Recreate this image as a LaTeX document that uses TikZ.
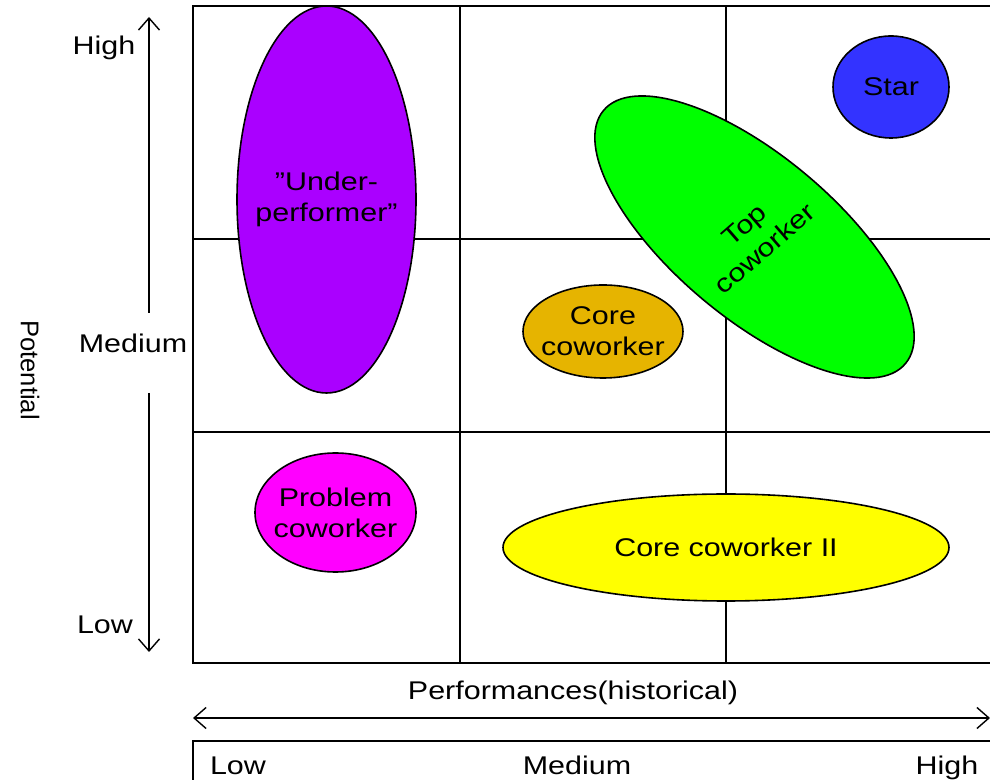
\documentclass[tikz,border=0pt]{standalone}
\usepackage{fontspec}
\setmainfont{Liberation Sans}[FakeStretch=1.19]
\newfontfamily\plainsans{Liberation Sans}
\usetikzlibrary{shapes.geometric,arrows.meta}
\definecolor{cPurple}{RGB}{170,0,255}
\definecolor{cBlue}{RGB}{51,51,255}
\definecolor{cGreen}{RGB}{0,255,0}
\definecolor{cGold}{RGB}{230,180,0}
\definecolor{cMagenta}{RGB}{255,0,255}
\definecolor{cYellow}{RGB}{255,255,0}
\tikzset{
  every node/.style={font=\fontsize{25.6}{31}\selectfont},
  gridline/.style={line width=1.6pt},
  axisarrow/.style={line width=1.4pt, arrows={Straight Barb[length=12pt,width=21pt,line width=1.4pt]-Straight Barb[length=12pt,width=21pt,line width=1.4pt]}},
  axisend/.style={line width=1.4pt, -{Straight Barb[length=12pt,width=21pt,line width=1.4pt]}},
  blob/.style={ellipse, draw=black, line width=1.6pt, inner sep=0pt, outer sep=0pt},
  lbl/.style={inner sep=0pt, anchor=center},
  blobtext/.style={inner sep=0pt, align=center}
}
\begin{document}
\begin{tikzpicture}[x=1pt,y=1pt]
\useasboundingbox (0,0) rectangle (990,779);
\clip (0,0) rectangle (990,779);

% 3x3 grid
\draw[gridline] (193,116) rectangle (995,773);
\draw[gridline] (460,116) -- (460,773);
\draw[gridline] (726,116) -- (726,773);
\draw[gridline] (193,540) -- (995,540);
\draw[gridline] (193,347) -- (995,347);

% scale box at the bottom
\draw[gridline] (193,-10) rectangle (1000,38);
\node[inner sep=0pt, anchor=base] (xlow) at (238,4.5) {Low};
\node[inner sep=0pt, anchor=base] (xmed) at (577,4.5) {Medium};
\node[inner sep=0pt, anchor=base] (xhigh) at (947,4.5) {High};

% horizontal axis
\coordinate (hl) at (193,61);
\coordinate (hr) at (990,61);
\draw[axisarrow] (hl) -- (hr);
\node[lbl] (xtitle) at (573,86) {Performances(historical)};

% vertical axis
\coordinate (vtop) at (149,762);
\coordinate (vtopend) at (149,466);
\coordinate (vbotstart) at (149,386);
\coordinate (vbot) at (149,127);
\draw[axisend] (vtopend) -- (vtop);
\draw[axisend] (vbotstart) -- (vbot);
\node[lbl] (yhigh) at (104,731) {High};
\node[lbl] (ymed) at (133,436) {Medium};
\node[lbl] (ylow) at (105,154) {Low};
\node[lbl, rotate=-90, font=\plainsans\fontsize{25.6}{31}\selectfont] (ytitle) at (30,409) {Potential};

% groups
\node[blob, fill=cPurple, minimum width=179pt, minimum height=387pt] (under) at (326.5,579.5) {};
\node[blobtext] (undert) at (under.center) {”Under-\\performer”};
\node[blob, fill=cBlue, minimum width=116pt, minimum height=102pt] (star) at (891,692) {};
\node[blobtext] (start) at (star.center) {Star};
\node[blob, fill=cGreen, minimum width=162pt, minimum height=394pt, rotate=50] (top) at (754.5,542) {};
\node[blobtext, rotate=41] (topt) at (top.center) {Top\\coworker};
\node[blob, fill=cGold, minimum width=160pt, minimum height=93pt] (core) at (603,447.5) {};
\node[blobtext] (coret) at (core.center) {Core\\coworker};
\node[blob, fill=cMagenta, minimum width=161pt, minimum height=119pt] (problem) at (335.5,266.5) {};
\node[blobtext] (problemt) at (problem.center) {Problem\\coworker};
\node[blob, fill=cYellow, minimum width=446pt, minimum height=107pt] (core2) at (726,231.5) {};
\node[blobtext] (core2t) at (core2.center) {Core coworker II};
\end{tikzpicture}
\end{document}
